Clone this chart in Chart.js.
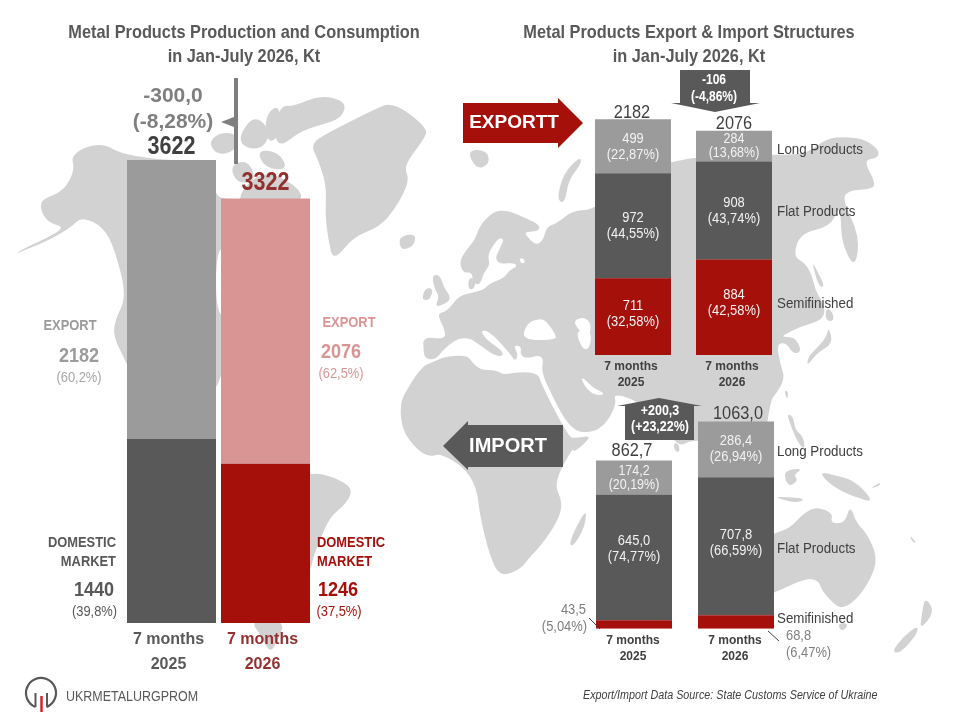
<!DOCTYPE html>
<html>
<head>
<meta charset="utf-8">
<title>Metal Products Production and Consumption</title>
<script src="https://cdn.jsdelivr.net/npm/chart.js@4"></script>
<style>
    html, body { margin: 0; padding: 0; background: #fff; }
    #page { position: relative; width: 960px; height: 720px; overflow: hidden; }
    #page canvas { position: absolute; left: 0; top: 0; }
</style>
</head>
<body>
<div id="page">
    <canvas id="balance-chart" width="960" height="720"></canvas>
    <canvas id="export-chart" width="960" height="720"></canvas>
    <canvas id="import-chart" width="960" height="720"></canvas>
</div>
<script>
// Data, Kt
const periods = [['7 months', '2025'], ['7 months', '2026']];
const balanceDomestic = [1440, 1246];
const balanceExport = [2182, 2076];
const balanceTotal = [3622, 3322];
const balanceDomesticShare = ['39,8', '37,5'];
const balanceExportShare = ['60,2', '62,5'];
const exportSemi = [711, 884];
const exportFlat = [972, 908];
const exportLong = [499, 284];
const exportTotal = [2182, 2076];
const exportSemiShare = ['32,58', '42,58'];
const exportFlatShare = ['44,55', '43,74'];
const exportLongShare = ['22,87', '13,68'];
const importSemi = [43.5, 68.8];
const importFlat = [645.0, 707.8];
const importLong = [174.2, 286.4];
const importTotal = [862.7, 1063.0];
const importSemiShare = ['5,04', '6,47'];
const importFlatShare = ['74,77', '66,59'];
const importLongShare = ['20,19', '26,94'];
const productNames = ['Long Products', 'Flat Products', 'Semifinished'];

// Colours
const DARK = '#595959';
const GREY = '#9B9B9B';
const RED = '#A6100A';
const PINK = '#D99594';
const BROWN = '#953030';
const INK = '#404040';
const MID = '#7F7F7F';
const LAND = '#D2D2D2';

const SANS = '"Liberation Sans", Arial, sans-serif';
const SQUEEZE = 0.86; // the reference text is squeezed sideways

Chart.defaults.font.family = SANS;

function comma(value, digits) {
    return value.toFixed(digits).replace('.', ',');
}

function put(ctx, text, x, y, font, color, align, stretch) {
    ctx.save();
    ctx.translate(x, y);
    ctx.scale(stretch || SQUEEZE, 1);
    ctx.font = font + ' ' + SANS;
    ctx.fillStyle = color;
    ctx.textAlign = align || 'center';
    ctx.textBaseline = 'middle';
    ctx.fillText(text, 0, 0);
    ctx.restore();
}

function shape(ctx, points, color) {
    ctx.beginPath();
    points.forEach((p, i) => (i ? ctx.lineTo(p[0], p[1]) : ctx.moveTo(p[0], p[1])));
    ctx.closePath();
    ctx.fillStyle = color;
    ctx.fill();
}

// same as shape but with rounded corners, for the coastlines
function blob(ctx, points, color) {
    const n = points.length;
    const mid = (a, b) => [(a[0] + b[0]) / 2, (a[1] + b[1]) / 2];
    const start = mid(points[n - 1], points[0]);
    ctx.beginPath();
    ctx.moveTo(start[0], start[1]);
    points.forEach((p, i) => {
        const m = mid(p, points[(i + 1) % n]);
        ctx.quadraticCurveTo(p[0], p[1], m[0], m[1]);
    });
    ctx.closePath();
    ctx.fillStyle = color;
    ctx.fill();
}

function segment(ctx, x1, y1, x2, y2, color, width) {
    ctx.beginPath();
    ctx.moveTo(x1, y1);
    ctx.lineTo(x2, y2);
    ctx.strokeStyle = color;
    ctx.lineWidth = width;
    ctx.stroke();
}

/* ---- world map backdrop, traced roughly from 3x crops of the reference ---- */

const at = (ox, oy, pts) => pts.map(p => [ox + p[0] / 3, oy + p[1] / 3]);

const land = [
    // North America
    at(0, 0, [[40,765],[85,738],[140,715],[195,682],[150,670],[125,640],[120,600],[190,575],[225,510],[212,462],[300,425],[380,470],[650,490],[640,590],[700,600],[900,620],[900,780],[780,950],[700,1000],[664,1130],[640,1180],[420,1180],[375,1080],[340,1010],[345,960],[380,890],[345,750],[310,680],[245,650],[215,680],[150,720],[85,745]]),
    // Canadian islands
    at(0, 0, [[625,425],[665,395],[715,405],[705,455],[650,465]]),
    at(0, 0, [[720,400],[765,345],[815,395],[785,450],[725,440]]),
    at(0, 0, [[795,345],[840,310],[840,410],[800,430]]),
    at(0, 0, [[770,450],[835,455],[865,510],[795,505]]),
    at(0, 0, [[880,320],[960,285],[1040,305],[1025,355],[960,375],[900,395],[835,445],[820,380],[845,315]]),
    at(0, 0, [[690,495],[745,480],[770,545],[710,550]]),
    at(0, 0, [[720,575],[790,510],[890,555],[915,610],[720,620]]),
    // Greenland, Iceland
    at(0, 0, [[930,430],[1000,390],[1120,330],[1180,305],[1285,385],[1270,420],[1210,500],[1230,540],[1190,620],[1140,680],[1060,710],[1000,785],[985,720],[975,640],[980,560],[955,480]]),
    at(400, 190, [[-5,140],[48,130],[42,168],[3,182]]),
    // South America
    at(0, 360, [[930,335],[1000,350],[1060,385],[1040,430],[990,470],[960,540],[940,590],[930,640],[800,700],[700,400]]),
    at(0, 360, [[750,780],[855,780],[835,840],[810,880],[785,830]]),
    // Eurasia: Atlantic, Arctic, Pacific, then the south coast back west
    [].concat(
        at(400, 330, [[70,20],[135,28]]),
        at(400, 190, [[135,420],[110,370],[140,365],[175,320],[205,310],[250,300],[270,280],[310,265],[330,240],[350,230],[345,218],[300,222],[285,205],[300,175],[312,148],[298,143],[280,165],[263,195],[270,225],[250,250],[240,285],[220,280],[215,245],[190,250],[178,215],[195,185],[225,150],[240,105],[280,65],[320,60],[380,85],[420,105],[415,125],[370,125],[390,150],[410,165],[430,150],[440,110],[470,100],[520,60],[585,60]]),
        [[640, 170], [700, 155], [773, 155]],
        at(770, 130, [[110,72],[170,25],[230,20],[290,30],[330,65],[320,85],[280,90],[320,165],[295,178],[240,180],[215,205],[270,320],[255,418],[215,340],[212,250],[205,235],[180,290],[90,310],[70,380],[100,395],[125,430],[135,480],[165,530],[160,570],[90,590],[30,620],[60,620],[80,630],[95,665],[70,672],[50,640],[20,640],[30,700],[45,745],[20,790],[0,810]]),
        [[760, 480], [735, 440], [690, 440], [680, 447], [665, 430]],
        at(400, 330, [[720,215],[640,190],[650,220],[620,280],[575,310],[510,300],[440,165],[425,120],[430,90],[420,75],[380,85],[360,75],[365,50],[340,45],[355,75],[345,95],[330,70],[270,5],[240,0],[260,30],[305,60],[310,80],[280,75],[240,45],[210,25],[175,25],[150,42],[130,60],[105,90],[75,85],[70,60]])
    ),
    // Africa
    [].concat(
        at(400, 330, [[100,95],[135,80],[200,75],[215,95],[240,120],[290,120],[310,135],[360,125],[415,130],[425,165],[505,320],[525,325],[580,315],[520,370]]),
        at(440, 370, [[400,230],[340,340],[370,400],[350,460],[300,530],[270,560],[240,600],[180,620],[150,560],[120,440],[110,350],[70,290],[0,250]]),
        at(400, 330, [[90,381],[51,360],[6,300],[0,220],[20,180],[65,110]])
    ),
    at(440, 370, [[385,520],[440,410],[435,470],[400,530]]),
    // Britain, Ireland, Denmark, Novaya Zemlya, Svalbard
    at(400, 190, [[95,255],[120,255],[130,290],[155,325],[130,345],[105,350],[118,320],[105,300]]),
    at(400, 190, [[65,330],[75,295],[100,295],[90,330]]),
    at(400, 190, [[205,265],[225,265],[225,295],[205,300]]),
    at(440, 0, [[350,600],[370,520],[420,470],[425,490],[385,540],[375,610]]),
    at(440, 0, [[80,450],[140,450],[150,490],[110,510]]),
    // Sakhalin, Japan, Taiwan, Sri Lanka
    at(770, 130, [[125,390],[145,430],[165,470],[145,470]]),
    at(770, 130, [[170,530],[190,550],[190,575],[165,570]]),
    at(770, 130, [[175,590],[190,640],[140,670],[110,710],[115,680],[140,655],[170,620]]),
    at(770, 130, [[42,780],[55,785],[52,812]]),
    at(440, 370, [[700,220],[715,220],[720,245],[705,245]]),
    // Philippines, Sulawesi, Java, New Guinea
    at(770, 400, [[50,40],[70,50],[75,90],[100,110],[105,150],[85,130],[65,85]]),
    at(770, 400, [[45,210],[100,205],[70,225],[85,240],[60,260],[45,240]]),
    at(770, 400, [[20,290],[110,295],[80,310],[25,295]]),
    at(770, 400, [[150,215],[190,225],[250,240],[300,290],[300,305],[270,295],[225,280],[170,245]]),
    at(770, 400, [[300,265],[335,245],[325,260]]),
    at(770, 400, [[420,405],[440,430],[425,425]]),
    // Australia, Tasmania, New Zealand
    at(770, 400, [[-60,440],[12,400],[60,385],[100,340],[140,320],[190,340],[180,370],[225,370],[240,315],[260,370],[290,400],[318,460],[315,510],[270,590],[215,630],[180,600],[155,570],[145,540],[105,535],[12,580],[-60,600]]),
    at(770, 400, [[205,670],[235,670],[225,690],[210,690]]),
    at(770, 400, [[465,590],[495,635],[450,690],[455,645]]),
    at(770, 400, [[365,755],[400,710],[445,675],[440,705],[390,760]])
];

// water cut back out of the land
const water = [
    at(0, 0, [[648,740],[700,740],[700,950],[648,950]]),
    at(400, 190, [[365,450],[380,400],[420,385],[440,395],[465,430],[470,450]]),
    at(400, 190, [[515,395],[550,380],[575,400],[565,450]]),
    at(400, 330, [[525,0],[575,0],[570,55],[548,60]]),
    at(400, 330, [[370,0],[470,0],[430,20],[385,25]]),
    at(400, 330, [[543,143],[555,148],[580,175],[615,190],[600,197],[575,190],[555,170]]),
    at(400, 190, [[358,205],[372,205],[375,220],[362,220]])
];

const mapPlugin = {
    id: 'worldMap',
    beforeDraw(chart) {
        const ctx = chart.ctx;
        ctx.save();
        land.forEach(points => blob(ctx, points, LAND));
        water.forEach(points => blob(ctx, points, '#fff'));
        ctx.restore();
    }
};

/* ---- common stacked bar set-up ---- */

function stackedBars(id, datasets, area, tickStyle, plugins) {
    return new Chart(document.getElementById(id), {
        type: 'bar',
        data: { labels: periods, datasets: datasets },
        options: {
            responsive: false,
            animation: false,
            events: [],
            layout: {
                padding: {
                    left: area.left,
                    right: 960 - area.right,
                    top: area.bottom - area.max * area.pxPerUnit,
                    bottom: 720 - area.bottom - tickStyle.height
                }
            },
            datasets: { bar: { categoryPercentage: 1, barPercentage: area.barShare } },
            scales: {
                x: {
                    stacked: true,
                    grid: { display: false, drawTicks: false },
                    border: { display: false },
                    afterFit(scale) { scale.height = tickStyle.height; },
                    ticks: {
                        autoSkip: false,
                        maxRotation: 0,
                        padding: tickStyle.padding,
                        labelOffset: tickStyle.offset,
                        font: { size: tickStyle.size, weight: 'bold', lineHeight: tickStyle.line },
                        color: tickStyle.color
                    }
                },
                y: { stacked: true, display: false, min: 0, max: area.max }
            },
            plugins: { legend: { display: false }, tooltip: { enabled: false }, title: { display: false } }
        },
        plugins: plugins
    });
}

// Value + share inside each stacked segment. shifts move a label off centre.
function segmentLabels(ctx, chart, values, shares, digits, shifts) {
    values.forEach((series, d) => {
        if (!series) return;
        const meta = chart.getDatasetMeta(d);
        series.forEach((v, i) => {
            const c = meta.data[i].getCenterPoint();
            const dy = shifts[d][i];
            const thin = meta.data[i].height < 40;
            const gap = thin ? 7 : 8;
            const font = thin ? '14.5px' : '15px';
            put(ctx, comma(v, digits), c.x, c.y + dy - gap, font, '#F2F2F2');
            put(ctx, '(' + shares[d][i] + '%)', c.x, c.y + dy + gap, font, '#F2F2F2');
        });
    });
}

/* ---- left panel ---- */

const balanceOverlay = {
    id: 'balanceOverlay',
    afterDraw(chart) {
        const ctx = chart.ctx;
        const y = chart.scales.y, x = chart.scales.x;
        ctx.save();
        put(ctx, 'Metal Products Production and Consumption', 244, 33, 'bold 19px', DARK);
        put(ctx, 'in Jan-July 2026, Kt', 244, 57, 'bold 19px', DARK);

        segment(ctx, 236, 78, 236, 164, MID, 4);
        shape(ctx, [[221, 122], [234, 117], [234, 127]], MID);
        put(ctx, '-300,0', 173, 96, 'bold 21px', MID, 'center', 1);
        put(ctx, '(-8,28%)', 173, 122, 'bold 21px', MID, 'center', 1);

        put(ctx, String(balanceTotal[0]), x.getPixelForValue(0), y.getPixelForValue(balanceTotal[0]) - 13, 'bold 25px', INK);
        put(ctx, String(balanceTotal[1]), x.getPixelForValue(1), y.getPixelForValue(balanceTotal[1]) - 15, 'bold 25px', BROWN);

        put(ctx, 'EXPORT', 70, 326, 'bold 15px', GREY);
        put(ctx, String(balanceExport[0]), 79, 356, 'bold 21px', GREY);
        put(ctx, '(' + balanceExportShare[0] + '%)', 79, 378, '15px', '#A6A6A6');
        put(ctx, 'EXPORT', 349, 323, 'bold 15px', PINK);
        put(ctx, String(balanceExport[1]), 341, 352, 'bold 21px', PINK);
        put(ctx, '(' + balanceExportShare[1] + '%)', 341, 374, '15px', PINK);

        put(ctx, 'DOMESTIC', 116, 543, 'bold 15px', DARK, 'right');
        put(ctx, 'MARKET', 116, 562, 'bold 15px', DARK, 'right');
        put(ctx, String(balanceDomestic[0]), 94, 590, 'bold 21px', DARK);
        put(ctx, '(' + balanceDomesticShare[0] + '%)', 94.5, 612, '15px', DARK);
        put(ctx, 'DOMESTIC', 317, 543, 'bold 15px', RED, 'left');
        put(ctx, 'MARKET', 317, 562, 'bold 15px', RED, 'left');
        put(ctx, String(balanceDomestic[1]), 338, 590, 'bold 21px', RED);
        put(ctx, '(' + balanceDomesticShare[1] + '%)', 339, 612, '15px', RED);

        // logo
        ctx.beginPath();
        ctx.arc(41, 693, 15, 0.62 * Math.PI, 0.38 * Math.PI);
        ctx.strokeStyle = DARK;
        ctx.lineWidth = 2.2;
        ctx.stroke();
        segment(ctx, 35.5, 693, 35.5, 707, DARK, 2);
        segment(ctx, 47, 693, 47, 707, DARK, 2);
        segment(ctx, 41.5, 696, 41.5, 712, '#D8222A', 2.5);
        put(ctx, 'UKRMETALURGPROM', 66, 697, '14.5px', DARK, 'left');
        ctx.restore();
    }
};

stackedBars('balance-chart', [
    { data: balanceDomestic, backgroundColor: [DARK, RED] },
    { data: balanceExport, backgroundColor: [GREY, PINK] }
], { left: 124.5, right: 312.5, bottom: 623, max: 4000, pxPerUnit: 0.1278, barShare: 89 / 94 },
{ height: 60, padding: 4, size: 16, line: 1.55, offset: -3, color: [DARK, BROWN] },
[mapPlugin, balanceOverlay]);

/* ---- right panel, export ---- */

const exportOverlay = {
    id: 'exportOverlay',
    afterDraw(chart) {
        const ctx = chart.ctx;
        const y = chart.scales.y, x = chart.scales.x;
        ctx.save();
        put(ctx, 'Metal Products Export & Import Structures', 689, 33, 'bold 19px', DARK);
        put(ctx, 'in Jan-July 2026, Kt', 689, 57, 'bold 19px', DARK);

        shape(ctx, [[463, 103], [558, 103], [558, 98], [583, 123], [558, 148], [558, 143], [463, 143]], RED);
        put(ctx, 'EXPORTT', 514, 123, 'bold 19px', '#fff', 'center', 1);

        shape(ctx, [[680, 70], [750, 70], [750, 103], [760, 103], [715, 112], [671, 103], [680, 103]], DARK);
        put(ctx, '-106', 714, 80, 'bold 14px', '#fff');
        put(ctx, '(-4,86%)', 714, 97, 'bold 14px', '#fff');

        put(ctx, String(exportTotal[0]), x.getPixelForValue(0) - 1, y.getPixelForValue(exportTotal[0]) - 7, '19px', INK);
        put(ctx, String(exportTotal[1]), x.getPixelForValue(1), y.getPixelForValue(exportTotal[1]) - 7, '19px', INK);

        segmentLabels(ctx, chart, [exportSemi, exportFlat, exportLong],
            [exportSemiShare, exportFlatShare, exportLongShare], 0,
            [[-3, -4], [0, 0], [1, 0]]);

        put(ctx, productNames[0], 777, 150, '15.5px', INK, 'left');
        put(ctx, productNames[1], 777, 212, '15.5px', INK, 'left');
        put(ctx, productNames[2], 777, 304, '15.5px', INK, 'left');
        ctx.restore();
    }
};

stackedBars('export-chart', [
    { data: exportSemi, backgroundColor: RED },
    { data: exportFlat, backgroundColor: DARK },
    { data: exportLong, backgroundColor: GREY }
], { left: 582.5, right: 784.5, bottom: 355, max: 2400, pxPerUnit: 0.108, barShare: 76 / 101 },
{ height: 40, padding: 4, size: 12, line: 1.33, offset: -2, color: INK },
[exportOverlay]);

/* ---- right panel, import ---- */

const importOverlay = {
    id: 'importOverlay',
    afterDraw(chart) {
        const ctx = chart.ctx;
        const y = chart.scales.y, x = chart.scales.x;
        ctx.save();
        shape(ctx, [[443, 446], [468, 421], [468, 425], [563, 425], [563, 467], [468, 467], [468, 470]], DARK);
        put(ctx, 'IMPORT', 508, 446, 'bold 20px', '#fff', 'center', 1);

        shape(ctx, [[659, 398], [702, 406], [694, 406], [694, 440], [625, 440], [625, 406], [617, 406]], DARK);
        put(ctx, '+200,3', 660, 411, 'bold 14.5px', '#fff');
        put(ctx, '(+23,22%)', 660, 427, 'bold 14.5px', '#fff');

        put(ctx, comma(importTotal[0], 1), x.getPixelForValue(0) - 2, y.getPixelForValue(importTotal[0]) - 10, '19px', INK);
        put(ctx, comma(importTotal[1], 1), x.getPixelForValue(1) + 2, y.getPixelForValue(importTotal[1]) - 8, '19px', INK);

        segmentLabels(ctx, chart, [null, importFlat, importLong],
            [null, importFlatShare, importLongShare], 1,
            [null, [-8, -3], [1, 0]]);

        // semifinished is too thin for its label, so it goes outside
        put(ctx, comma(importSemi[0], 1), 586, 610, '15px', MID, 'right');
        put(ctx, '(' + importSemiShare[0] + '%)', 587, 627, '15px', MID, 'right');
        segment(ctx, 589, 618, 600, 629, INK, 1);
        put(ctx, comma(importSemi[1], 1), 786, 636, '15px', MID, 'left');
        put(ctx, '(' + importSemiShare[1] + '%)', 786, 653, '15px', MID, 'left');
        segment(ctx, 768, 631, 779, 641, INK, 1);

        put(ctx, productNames[0], 777, 452, '15.5px', INK, 'left');
        put(ctx, productNames[1], 777, 549, '15.5px', INK, 'left');
        put(ctx, productNames[2], 777, 619, '15.5px', INK, 'left');

        put(ctx, 'Export/Import Data Source: State Customs Service of Ukraine', 583, 696, 'italic 12.5px', INK, 'left');
        ctx.restore();
    }
};

stackedBars('import-chart', [
    { data: importSemi, backgroundColor: RED },
    { data: importFlat, backgroundColor: DARK },
    { data: importLong, backgroundColor: GREY }
], { left: 583, right: 787, bottom: 628.7, max: 1200, pxPerUnit: 0.195, barShare: 76 / 102 },
{ height: 40, padding: 4, size: 12, line: 1.33, offset: -1, color: INK },
[importOverlay]);
</script>
</body>
</html>
